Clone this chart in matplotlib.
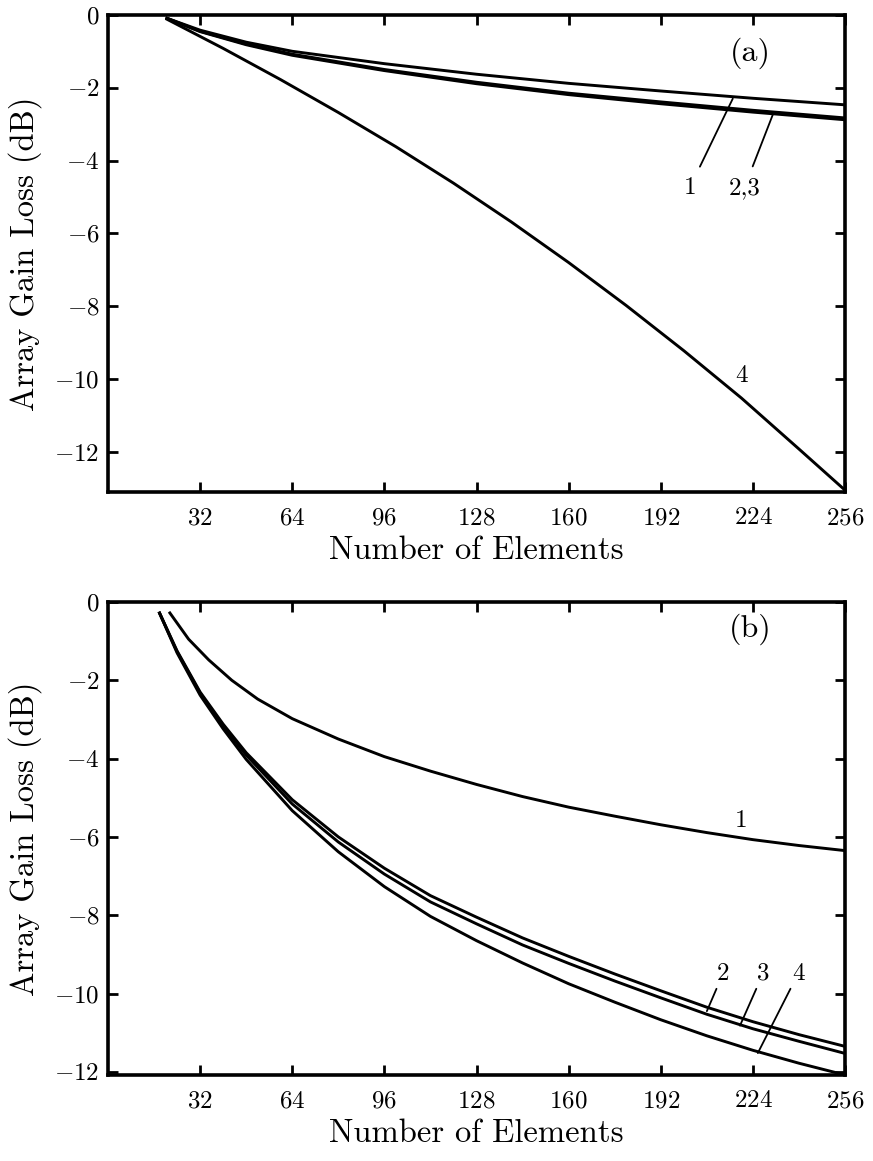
#!/usr/bin/env python3
"""
Array gain loss versus number of elements, panels (a) and (b)
"""

import matplotlib
matplotlib.use('Agg')
import matplotlib.pyplot as plt

# Panel (a) curves
a1_x = [20, 32, 48, 64, 96, 128, 160, 192, 224, 256]
a1_y = [-0.08, -0.42, -0.75, -1.00, -1.34, -1.63, -1.88, -2.09, -2.29, -2.47]
a2_x = [20, 32, 48, 64, 96, 128, 160, 192, 224, 256]
a2_y = [-0.08, -0.45, -0.80, -1.08, -1.50, -1.85, -2.15, -2.39, -2.62, -2.83]
a3_x = [20, 32, 48, 64, 96, 128, 160, 192, 224, 256]
a3_y = [-0.08, -0.46, -0.82, -1.11, -1.53, -1.89, -2.19, -2.44, -2.67, -2.88]
a4_x = [20, 40, 60, 80, 100, 120, 140, 160, 180, 200, 220, 240, 256]
a4_y = [-0.10, -0.92, -1.78, -2.68, -3.62, -4.62, -5.68, -6.80, -7.98, -9.22,
        -10.52, -11.92, -13.05]

# Panel (b) curves
b1_x = [21.2, 28, 35, 43, 52, 64, 80, 96, 112, 128, 144, 160, 176, 192, 208, 224, 240, 256]
b1_y = [-0.25, -0.95, -1.48, -2.00, -2.48, -2.98, -3.50, -3.95, -4.32, -4.66, -4.97,
        -5.24, -5.47, -5.69, -5.89, -6.07, -6.22, -6.35]
b2_x = [17.7, 24, 32, 40, 48, 64, 80, 96, 112, 128, 144, 160, 176, 192, 208, 224, 240, 256]
b2_y = [-0.25, -1.25, -2.30, -3.12, -3.85, -5.05, -6.00, -6.80, -7.50, -8.05, -8.58,
        -9.05, -9.50, -9.93, -10.35, -10.72, -11.05, -11.35]
b3_x = [17.7, 24, 32, 40, 48, 64, 80, 96, 112, 128, 144, 160, 176, 192, 208, 224, 240, 256]
b3_y = [-0.25, -1.27, -2.33, -3.16, -3.91, -5.16, -6.13, -6.95, -7.66, -8.22, -8.76,
        -9.23, -9.68, -10.11, -10.53, -10.90, -11.22, -11.53]
b4_x = [17.7, 24, 32, 40, 48, 64, 80, 96, 112, 128, 144, 160, 176, 192, 208, 224, 240, 256]
b4_y = [-0.25, -1.30, -2.38, -3.24, -4.02, -5.33, -6.38, -7.27, -8.03, -8.65, -9.22,
        -9.75, -10.22, -10.67, -11.08, -11.45, -11.78, -12.08]

x_ticks = [32, 64, 96, 128, 160, 192, 224, 256]
y_ticks = [0, -2, -4, -6, -8, -10, -12]

# curve labels: (text, text top position, leader end or None, leader gap)
a_labels = [('1', (202, -4.45), (217, -2.30), 6),
            ('2,3', (221, -4.45), (231, -2.72), 6),
            ('4', (220, -9.9), None, 0)]
b_labels = [('2', (213.6, -9.21), (208, -10.45), 1),
            ('3', (227.5, -9.21), (219.5, -10.82), 1),
            ('4', (239.7, -9.21), (225.7, -11.52), 1),
            ('1', (220, -5.6), None, 0)]

plt.rcParams['font.family'] = 'cmr10'
plt.rcParams['mathtext.fontset'] = 'cm'
plt.rcParams['axes.formatter.use_mathtext'] = True


def style_axes(ax, ylim):
    ax.set_xlim(0, 256)
    ax.set_ylim(*ylim)
    ax.set_xticks(x_ticks)
    ax.set_yticks(y_ticks)
    ax.tick_params(direction='in', length=7, width=2, top=True, right=True,
                   labelsize=18)
    ax.tick_params(axis='x', pad=11)
    ax.tick_params(axis='y', pad=6)
    for s in ax.spines.values():
        s.set_linewidth(2.6)
    ax.set_xlabel('Number of Elements', fontsize=23.5, labelpad=5)
    ax.set_ylabel('Array Gain Loss (dB)', fontsize=23.5, labelpad=9)


def add_labels(ax, labels):
    for text, xy_text, xy_end, gap in labels:
        if xy_end is None:
            ax.text(xy_text[0], xy_text[1], text, fontsize=18,
                    ha='center', va='center')
        else:
            ax.annotate(text, xy=xy_end, xytext=xy_text, fontsize=18,
                        ha='center', va='top',
                        arrowprops=dict(arrowstyle='-', lw=1.3, color='black',
                                        shrinkA=gap, shrinkB=0))


def main():
    fig = plt.figure(figsize=(8.73, 11.61), dpi=100)
    ax_a = fig.add_axes([0.1237, 0.5762, 0.8443, 0.4110])
    ax_b = fig.add_axes([0.1237, 0.0741, 0.8443, 0.4074])

    lw = 2.1
    for xs, ys in [(a1_x, a1_y), (a2_x, a2_y), (a3_x, a3_y), (a4_x, a4_y)]:
        ax_a.plot(xs, ys, color='black', lw=lw, solid_capstyle='butt')
    for xs, ys in [(b1_x, b1_y), (b2_x, b2_y), (b3_x, b3_y), (b4_x, b4_y)]:
        ax_b.plot(xs, ys, color='black', lw=lw, solid_capstyle='butt')

    style_axes(ax_a, (-13.1, 0))
    style_axes(ax_b, (-12.08, 0))
    add_labels(ax_a, a_labels)
    add_labels(ax_b, b_labels)

    ax_a.text(223, -1.05, '(a)', fontsize=23, ha='center', va='center')
    ax_b.text(223, -0.7, '(b)', fontsize=23, ha='center', va='center')

    fig.savefig('out.png', dpi=100)
    plt.close(fig)


if __name__ == '__main__':
    main()
